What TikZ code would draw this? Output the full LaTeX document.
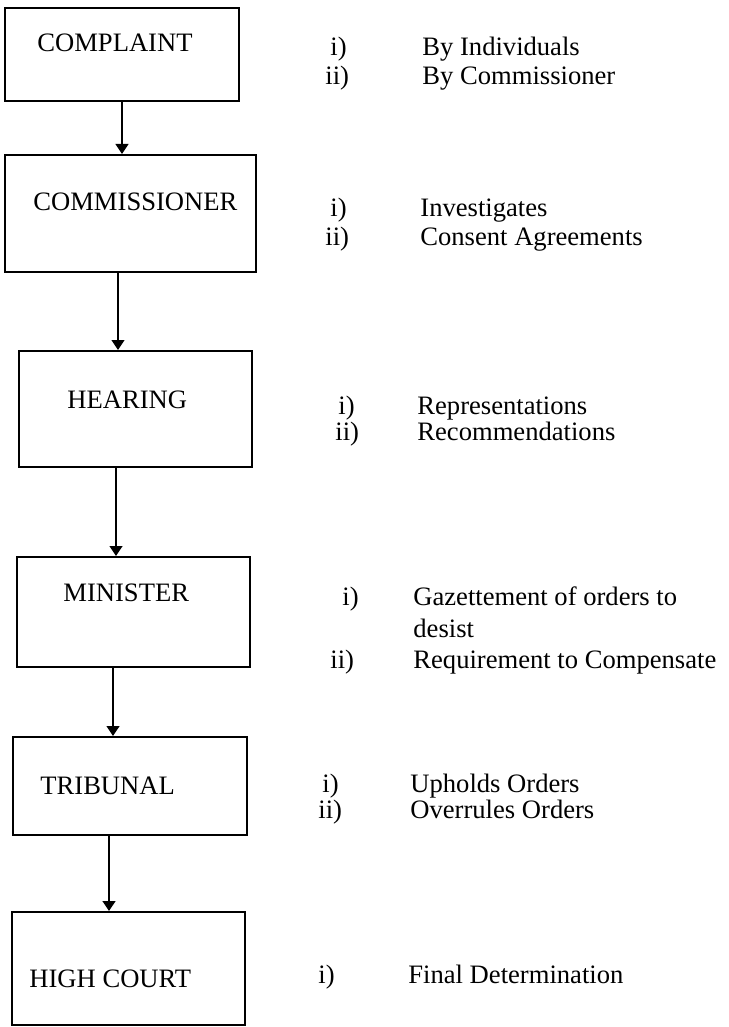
\documentclass[tikz,border=0pt]{standalone}
\usepackage{fontspec}
\setmainfont{Liberation Serif}
\usepackage{tikz}
\usetikzlibrary{positioning, arrows.meta}
\tikzset{
	stagebox/.style={
			rectangle,
			draw=black,
			line width=1pt,
			fill=white,
			inner sep=0pt
		},
	stagelabel/.style={
			anchor=base west,
			inner sep=0pt,
			font=\fontsize{13.3pt}{16pt}\selectfont
		},
	itemnum/.style={
			stagelabel
		},
	itemtext/.style={
			stagelabel
		},
	flowarrow/.style={
			draw=black,
			line width=0.65pt,
			-{Triangle[length=5pt,width=6.5pt]}
		}
}

\begin{document}
\begin{tikzpicture}[x=0.5pt, y=-0.5pt]
				\useasboundingbox (0,0) rectangle (728,1027);

				\node[stagebox, minimum width=117pt, minimum height=46.5pt] at (122,54.5) (complaint) {};
				\node[stagebox, minimum width=125.5pt, minimum height=58.5pt] at (130.5,213.5) (commissioner) {};
				\node[stagebox, minimum width=116.5pt, minimum height=58pt] at (135.5,409) (hearing) {};
				\node[stagebox, minimum width=116.5pt, minimum height=55pt] at (133.5,612) (minister) {};
				\node[stagebox, minimum width=117pt, minimum height=49pt] at (130,786) (tribunal) {};
				\node[stagebox, minimum width=116.5pt, minimum height=56.5pt] at (128.5,968.5) (highcourt) {};

				\node[stagelabel] at (37,52) (complaintlbl) {COMPLAINT};
				\node[stagelabel] at (33,211) (commissionerlbl) {COMMISSIONER};
				\node[stagelabel] at (67,408) (hearinglbl) {HEARING};
				\node[stagelabel] at (63,601) (ministerlbl) {MINISTER};
				\node[stagelabel] at (40,794) (tribunallbl) {TRIBUNAL};
				\node[stagelabel] at (29,987) (highcourtlbl) {HIGH COURT};

				\draw[flowarrow] (complaint.south) -- (complaint.south |- commissioner.north);
				\draw[flowarrow] ([xshift=-6.25pt]commissioner.south) -- ([xshift=-6.25pt]commissioner.south |- hearing.north);
				\draw[flowarrow] ([xshift=-9.75pt]hearing.south) -- ([xshift=-9.75pt]hearing.south |- minister.north);
				\draw[flowarrow] ([xshift=-10.25pt]minister.south) -- ([xshift=-10.25pt]minister.south |- tribunal.north);
				\draw[flowarrow] ([xshift=-10.5pt]tribunal.south) -- ([xshift=-10.5pt]tribunal.south |- highcourt.north);

				% complaint
				\node[itemnum] at (330,56) (c1n) {i)};
				\node[itemtext] at (422,56) (c1t) {By Individuals};
				\node[itemnum] at (325,85) (c2n) {ii)};
				\node[itemtext] at (422,85) (c2t) {By Commissioner};

				% commissioner
				\node[itemnum] at (330,217) (m1n) {i)};
				\node[itemtext] at (420,217) (m1t) {Investigates};
				\node[itemnum] at (325,245) (m2n) {ii)};
				\node[itemtext] at (420,245) (m2t) {Consent Agreements};

				% hearing
				\node[itemnum] at (338,414) (h1n) {i)};
				\node[itemtext] at (417,414) (h1t) {Representations};
				\node[itemnum] at (335,440) (h2n) {ii)};
				\node[itemtext] at (417,440) (h2t) {Recommendations};

				% minister
				\node[itemnum] at (342,605) (n1n) {i)};
				\node[itemtext] at (413,605) (n1t) {Gazettement of orders to};
				\node[itemtext] at (413,637) (n1tb) {desist};
				\node[itemnum] at (330,668) (n2n) {ii)};
				\node[itemtext] at (413,668) (n2t) {Requirement to Compensate};

				% tribunal
				\node[itemnum] at (322,792) (t1n) {i)};
				\node[itemtext] at (410,792) (t1t) {Upholds Orders};
				\node[itemnum] at (318,818) (t2n) {ii)};
				\node[itemtext] at (410,818) (t2t) {Overrules Orders};

				% high court
				\node[itemnum] at (318,983) (g1n) {i)};
				\node[itemtext] at (408,983) (g1t) {Final Determination};
			\end{tikzpicture}
\end{document}
